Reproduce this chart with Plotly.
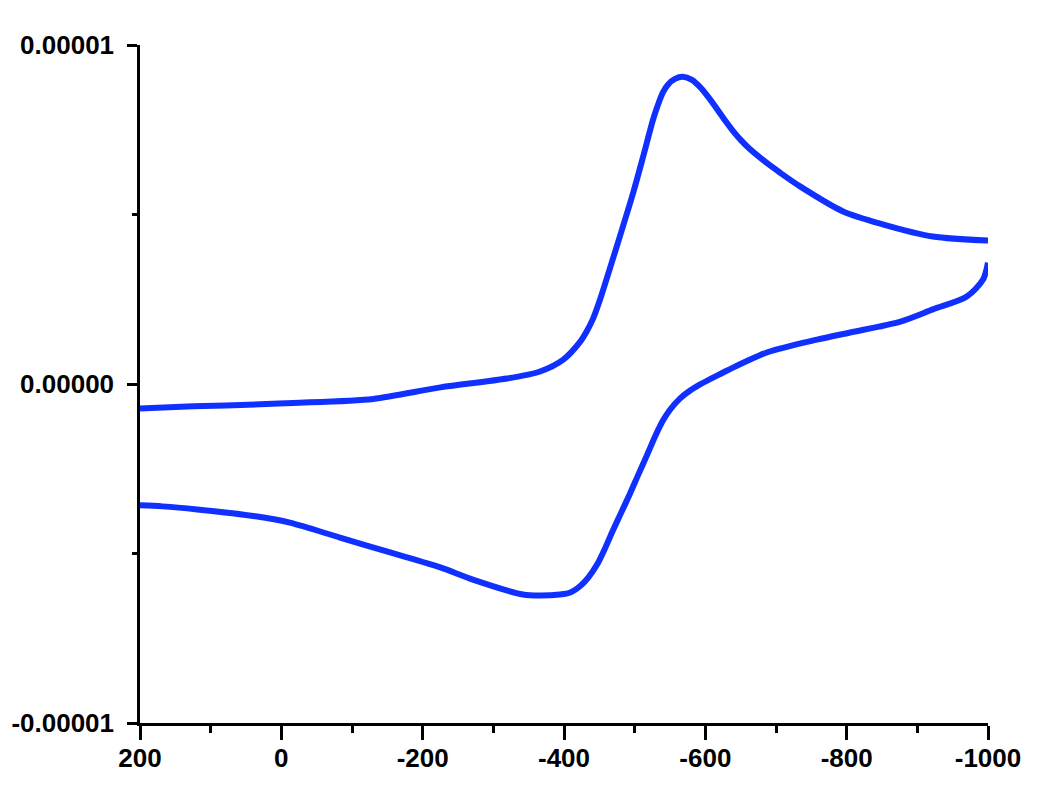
import plotly.graph_objects as go

# Forward scan (200 -> -1000 mV), current in microamps
fwd_potential = [200, 125, 30, -17, -130, -225, -319, -366, -399, -423, -432, -441,
                 -451, -472, -498, -512, -526, -533, -540, -547, -557, -568, -581,
                 -592, -604, -617, -628, -639, -651, -663, -687, -706, -734, -795,
                 -851, -922, -1000]
fwd_current_ua = [-0.72, -0.66, -0.60, -0.56, -0.44, -0.10, 0.16, 0.37, 0.72, 1.25,
                  1.55, 1.92, 2.49, 3.88, 5.65, 6.71, 7.80, 8.24, 8.60, 8.83, 9.00,
                  9.06, 8.97, 8.77, 8.47, 8.10, 7.77, 7.47, 7.18, 6.93, 6.52, 6.23,
                  5.83, 5.09, 4.71, 4.35, 4.23]

# Reverse scan (-1000 -> 200 mV)
rev_potential = [-1000, -993, -970, -922, -876, -805, -758, -687, -631, -611, -592,
                 -578, -564, -550, -540, -530, -517, -505, -493, -479, -469, -458,
                 -447, -434, -423, -409, -394, -366, -342, -271, -225, -154, -83,
                 -12, 34, 119, 168, 200]
rev_current_ua = [3.58, 3.08, 2.58, 2.20, 1.84, 1.52, 1.31, 0.93, 0.40, 0.19, -0.02,
                  -0.20, -0.43, -0.76, -1.08, -1.50, -2.12, -2.68, -3.25, -3.88, -4.33,
                  -4.85, -5.32, -5.72, -5.96, -6.15, -6.21, -6.24, -6.21, -5.77, -5.41,
                  -4.97, -4.53, -4.09, -3.91, -3.70, -3.61, -3.58]

x_tickvals = [200, 0, -200, -400, -600, -800, -1000]
y_tickvals = [-1e-5, 0, 1e-5]
y_ticktext = ["-0.00001", "0.00000", "0.00001"]

LINE_COLOR = "#1030ff"

fig = go.Figure()
for xs, ys in [(fwd_potential, fwd_current_ua), (rev_potential, rev_current_ua)]:
    fig.add_trace(go.Scatter(
        x=xs,
        y=[v * 1e-6 for v in ys],
        mode="lines",
        line=dict(color=LINE_COLOR, width=6, shape="spline", smoothing=0.8),
        showlegend=False,
        cliponaxis=False,
    ))

tick_font = dict(family="Liberation Sans, Arial, sans-serif", size=26, color="black", weight=700)

fig.update_layout(
    width=1050,
    height=800,
    margin=dict(l=132, r=70, t=37, b=85),
    paper_bgcolor="white",
    plot_bgcolor="white",
    xaxis=dict(
        range=[200, -1000],
        tickvals=x_tickvals,
        ticktext=[str(v) for v in x_tickvals],  # plain hyphen, not unicode minus
        ticks="outside", ticklen=14, tickwidth=2.5, tickcolor="black",
        minor=dict(dtick=100, tick0=0, ticks="outside", ticklen=7, tickwidth=2.5, tickcolor="black"),
        showline=True, linecolor="black", linewidth=2.5,
        showgrid=False, zeroline=False,
        ticklabelstandoff=-4,
        automargin=False,
        tickfont=tick_font,
    ),
    yaxis=dict(
        range=[-1e-5, 1e-5],
        tickvals=y_tickvals,
        ticktext=y_ticktext,
        ticks="outside", ticklen=10, tickwidth=2.5, tickcolor="black",
        minor=dict(tickvals=[-5e-6, 5e-6], ticks="outside", ticklen=5, tickwidth=2.5, tickcolor="black"),
        showline=True, linecolor="black", linewidth=2.5,
        showgrid=False, zeroline=False,
        ticklabelstandoff=8,
        automargin=False,
        tickfont=tick_font,
    ),
)

fig.write_html("out.html")
